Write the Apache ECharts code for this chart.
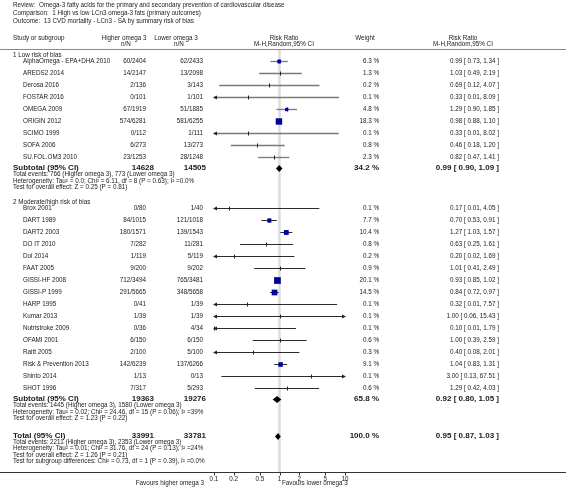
<!DOCTYPE html>
<html><head><meta charset="utf-8">
<script src="https://cdn.jsdelivr.net/npm/echarts@6/dist/echarts.min.js"></script>
<style>html,body{margin:0;padding:0;background:#fff}#c{width:566px;height:499px}</style>
</head><body><div id="c"></div>
<script>
// ---------------- DATA ----------------
const titleLines = [
  'Review:  Omega-3 fatty acids for the primary and secondary prevention of cardiovascular disease',
  'Comparison:  1 High vs low LCn3 omega-3 fats (primary outcomes)',
  'Outcome:  13 CVD mortality - LCn3 - SA by summary risk of bias'
];
const groupLabels = ['1 Low risk of bias', '2 Moderate/high risk of bias'];

const g1Names = ['AlphaOmega - EPA+DHA 2010','AREDS2 2014','Derosa 2016','FOSTAR 2016','OMEGA 2009','ORIGIN 2012','SCIMO 1999','SOFA 2006','SU.FOL.OM3 2010'];
const g1Higher = ['60/2404','14/2147','2/136','0/101','67/1919','574/6281','0/112','6/273','23/1253'];
const g1Lower = ['62/2433','13/2098','3/143','1/101','51/1885','581/6255','1/111','13/273','28/1248'];
const g1Weight = [6.3, 1.3, 0.2, 0.1, 4.8, 18.3, 0.1, 0.8, 2.3];
const g1RR = [0.99, 1.03, 0.69, 0.33, 1.29, 0.98, 0.33, 0.46, 0.82];
const g1CILow = [0.73, 0.49, 0.12, 0.01, 0.90, 0.88, 0.01, 0.18, 0.47];
const g1CIHigh = [1.34, 2.19, 4.07, 8.09, 1.85, 1.10, 8.02, 1.20, 1.41];

const g2Names = ['Brox 2001','DART 1989','DART2 2003','DO IT 2010','Doi 2014','FAAT 2005','GISSI-HF 2008','GISSI-P 1999','HARP 1995','Kumar 2013','Nutristroke 2009','OFAMI 2001','Raitt 2005','Risk & Prevention 2013','Shinto 2014','SHOT 1996'];
const g2Higher = ['0/80','84/1015','180/1571','7/282','1/119','9/200','712/3494','291/5665','0/41','1/39','0/36','6/150','2/100','142/6239','1/13','7/317'];
const g2Lower = ['1/40','121/1018','139/1543','11/281','5/119','9/202','765/3481','348/5658','1/39','1/39','4/34','6/150','5/100','137/6266','0/13','5/293'];
const g2Weight = [0.1, 7.7, 10.4, 0.8, 0.2, 0.9, 20.1, 14.5, 0.1, 0.1, 0.1, 0.6, 0.3, 9.1, 0.1, 0.6];
const g2RR = [0.17, 0.70, 1.27, 0.63, 0.20, 1.01, 0.93, 0.84, 0.32, 1.00, 0.10, 1.00, 0.40, 1.04, 3.00, 1.29];
const g2CILow = [0.01, 0.53, 1.03, 0.25, 0.02, 0.41, 0.85, 0.72, 0.01, 0.06, 0.01, 0.39, 0.08, 0.83, 0.13, 0.42];
const g2CIHigh = [4.05, 0.91, 1.57, 1.61, 1.69, 2.49, 1.02, 0.97, 7.57, 15.43, 1.79, 2.59, 2.01, 1.31, 67.51, 4.03];

const summaryLabels = ['Subtotal (95% CI)', 'Subtotal (95% CI)', 'Total (95% CI)'];
const summaryHigherN = [14628, 19363, 33991];
const summaryLowerN = [14505, 19276, 33781];
const summaryWeight = [34.2, 65.8, 100.0];
const summaryRR = [0.99, 0.92, 0.95];
const summaryCILow = [0.90, 0.80, 0.87];
const summaryCIHigh = [1.09, 1.05, 1.03];
const summaryNotes = [
  ['Total events: 766 (Higher omega 3), 773 (Lower omega 3)',
   'Heterogeneity: Tau\u00b2 = 0.0; Chi\u00b2 = 6.11, df = 8 (P = 0.63); I\u00b2 =0.0%',
   'Test for overall effect: Z = 0.25 (P = 0.81)'],
  ['Total events: 1445 (Higher omega 3), 1580 (Lower omega 3)',
   'Heterogeneity: Tau\u00b2 = 0.02; Chi\u00b2 = 24.46, df = 15 (P = 0.06); I\u00b2 =39%',
   'Test for overall effect: Z = 1.23 (P = 0.22)'],
  ['Total events: 2211 (Higher omega 3), 2353 (Lower omega 3)',
   'Heterogeneity: Tau\u00b2 = 0.01; Chi\u00b2 = 31.76, df = 24 (P = 0.13); I\u00b2 =24%',
   'Test for overall effect: Z = 1.26 (P = 0.21)',
   'Test for subgroup differences: Chi\u00b2 = 0.73, df = 1 (P = 0.39), I\u00b2 =0.0%']
];
const xTicks = [0.1, 0.2, 0.5, 1, 2, 5, 10];
const xTickLabels = ['0.1', '0.2', '0.5', '1', '2', '5', '10'];
const favoursLabels = ['Favours higher omega 3', 'Favours lower omega 3'];

// ---------------- LAYOUT ----------------
const FONT = '"Liberation Sans", Arial, sans-serif';
const FS = 6.3, FSB = 8;
const X_MIN = 0.1, X_MAX = 10;
const COL = {
  title: 13, group: 13, study: 23,
  higherR: 146, lowerR: 203, higherSumR: 154, lowerSumR: 206,
  weightR: 379, rrR: 499,
  higherHdr: 124, lowerHdr: 176, plotHdr: 284, weightHdr: 365, rrHdr: 463,
  favL: 204, favR: 282
};
const g1Start = 0, g2Start = 12.25;
const summaryRows = [8.9, 28.17, 31.22];
const noteStep = 0.53;
const AXIS_ROW = 34.27;

function fmtRR(r, l, h) { return r.toFixed(2) + ' [ ' + l.toFixed(2) + ', ' + h.toFixed(2) + ' ]'; }

const studies = [];
g1Names.forEach((n, i) => studies.push({g: 0, name: n, hi: g1Higher[i], lo: g1Lower[i], w: g1Weight[i], rr: g1RR[i], l: g1CILow[i], h: g1CIHigh[i], row: g1Start + i}));
g2Names.forEach((n, i) => studies.push({g: 1, name: n, hi: g2Higher[i], lo: g2Lower[i], w: g2Weight[i], rr: g2RR[i], l: g2CILow[i], h: g2CIHigh[i], row: g2Start + i}));

const texts = [];
function T(row, x, text, align, bold, color) { texts.push({row, x, text, align: align || 'left', bold: !!bold, color: color || '#1a1a1a'}); }
titleLines.forEach((t, i) => T(-4.67 + i * 0.667, COL.title, t, 'left', false, '#222'));
T(-1.86, COL.title, 'Study or subgroup');
T(-1.86, COL.higherHdr, 'Higher omega 3', 'center'); T(-1.42, COL.higherHdr + 2, 'n/N', 'center');
T(-1.86, COL.lowerHdr, 'Lower omega 3', 'center'); T(-1.42, COL.lowerHdr + 3, 'n/N', 'center');
T(-1.86, COL.plotHdr, 'Risk Ratio', 'center'); T(-1.42, COL.plotHdr, 'M-H,Random,95% CI', 'center');
T(-1.86, COL.weightHdr, 'Weight', 'center');
T(-1.86, COL.rrHdr, 'Risk Ratio', 'center'); T(-1.42, COL.rrHdr, 'M-H,Random,95% CI', 'center');
T(g1Start - 0.45, COL.group, groupLabels[0]);
T(g2Start - 0.5, COL.group, groupLabels[1]);
studies.forEach(s => {
  T(s.row, COL.study, s.name);
  T(s.row, COL.higherR, s.hi, 'right');
  T(s.row, COL.lowerR, s.lo, 'right');
  T(s.row, COL.weightR, s.w.toFixed(1) + ' %', 'right');
  T(s.row, COL.rrR, fmtRR(s.rr, s.l, s.h), 'right');
});
summaryLabels.forEach((lab, i) => {
  const r = summaryRows[i];
  T(r, COL.group, lab, 'left', true);
  T(r, COL.higherSumR, String(summaryHigherN[i]), 'right', true);
  T(r, COL.lowerSumR, String(summaryLowerN[i]), 'right', true);
  T(r, COL.weightR, summaryWeight[i].toFixed(1) + ' %', 'right', true);
  T(r, COL.rrR, fmtRR(summaryRR[i], summaryCILow[i], summaryCIHigh[i]), 'right', true);
  summaryNotes[i].forEach((n, j) => T(r + 0.55 + j * noteStep, COL.group, n));
});
T(AXIS_ROW + 0.92, COL.favL, favoursLabels[0], 'right');
T(AXIS_ROW + 0.92, COL.favR, favoursLabels[1], 'left');

const crisp = v => Math.round(v) + 0.5;

const chart = echarts.init(document.getElementById('c'), null, {renderer: 'canvas'});
chart.setOption({
  animation: false,
  backgroundColor: '#fff',
  grid: {left: 214, right: 221, top: 1, bottom: 18},
  xAxis: {type: 'log', logBase: 10, min: X_MIN, max: X_MAX, show: false},
  yAxis: {type: 'value', min: -5, max: 35, inverse: true, show: false},
  series: [
    {
      type: 'custom', clip: false, z: 1, silent: true,
      data: [[1, -1, AXIS_ROW]],
      renderItem(params, api) {
        const top = api.coord([api.value(0), api.value(1)]);
        const bot = api.coord([api.value(0), api.value(2)]);
        return {type: 'group', children: [
          {type: 'line', shape: {x1: top[0], y1: crisp(top[1]), x2: bot[0], y2: crisp(bot[1])}, style: {stroke: '#dcdcdc', lineWidth: 2.5}},
          {type: 'line', shape: {x1: 0, y1: crisp(top[1]), x2: 566, y2: crisp(top[1])}, style: {stroke: '#8a8a8a', lineWidth: 1}},
          {type: 'line', shape: {x1: 0, y1: crisp(bot[1]), x2: 566, y2: crisp(bot[1])}, style: {stroke: '#333', lineWidth: 1}}
        ]};
      }
    },
    {
      type: 'custom', clip: false, z: 2, silent: true,
      data: xTicks.map((v, i) => [v, AXIS_ROW, i]),
      renderItem(params, api) {
        const p = api.coord([api.value(0), api.value(1)]);
        const y = crisp(p[1]);
        return {type: 'group', children: [
          {type: 'line', shape: {x1: Math.round(p[0]) + 0.5, y1: y, x2: Math.round(p[0]) + 0.5, y2: y + 3}, style: {stroke: '#333', lineWidth: 1}},
          {type: 'text', x: p[0], y: y + 6.5, style: {text: xTickLabels[api.value(2)], font: FS + 'px ' + FONT, fill: '#1a1a1a', align: 'center', verticalAlign: 'middle'}}
        ]};
      }
    },
    {
      type: 'custom', clip: false, z: 3, silent: true,
      data: studies.map(s => [s.rr, s.row, s.l, s.h, s.w, s.g]),
      renderItem(params, api) {
        const rr = api.value(0), row = api.value(1), lo = api.value(2), hi = api.value(3), w = api.value(4), g = api.value(5);
        const p0 = api.coord([Math.max(lo, X_MIN), row]);
        const p1 = api.coord([Math.min(hi, X_MAX), row]);
        const pc = api.coord([rr, row]);
        const y = crisp(p0[1]);
        const lineStroke = g === 0 ? '#7a7a7a' : '#2a2a2a';
        const lineW = g === 0 ? 1.3 : 1;
        const ch = [{type: 'line', shape: {x1: p0[0], y1: y, x2: p1[0], y2: y}, style: {stroke: lineStroke, lineWidth: lineW}}];
        if (lo < X_MIN) ch.push({type: 'polygon', shape: {points: [[p0[0] - 1, y], [p0[0] + 3, y - 2], [p0[0] + 3, y + 2]]}, style: {fill: '#222'}});
        if (hi > X_MAX) ch.push({type: 'polygon', shape: {points: [[p1[0] + 1, y], [p1[0] - 3, y - 2], [p1[0] - 3, y + 2]]}, style: {fill: '#222'}});
        ch.push({type: 'line', shape: {x1: Math.round(pc[0]) + 0.5, y1: y - 2, x2: Math.round(pc[0]) + 0.5, y2: y + 2}, style: {stroke: '#222', lineWidth: 1}});
        if (w >= 4) {
          const s = 1.5 * Math.sqrt(w);
          ch.push({type: 'rect', shape: {x: pc[0] - s / 2, y: y - s / 2, width: s, height: s}, style: {fill: '#00009a'}});
        }
        return {type: 'group', children: ch};
      }
    },
    {
      type: 'custom', clip: false, z: 3, silent: true,
      data: summaryRR.map((v, i) => [v, summaryRows[i], summaryCILow[i], summaryCIHigh[i]]),
      renderItem(params, api) {
        const row = api.value(1);
        const pc = api.coord([api.value(0), row]);
        const pl = api.coord([api.value(2), row]);
        const ph = api.coord([api.value(3), row]);
        const y = crisp(pc[1]), hh = 3.5;
        return {type: 'polygon', shape: {points: [[pl[0] - 0.5, y], [pc[0], y - hh], [ph[0] + 0.5, y], [pc[0], y + hh]]}, style: {fill: '#000'}};
      }
    },
    {
      type: 'custom', clip: false, z: 4, silent: true,
      data: texts.map((t, i) => [1, t.row, i]),
      renderItem(params, api) {
        const t = texts[api.value(2)];
        const p = api.coord([1, api.value(1)]);
        return {type: 'text', x: t.x, y: p[1], style: {
          text: t.text, fill: t.color, align: t.align, verticalAlign: 'middle',
          font: (t.bold ? 'bold ' + FSB : FS) + 'px ' + FONT
        }};
      }
    }
  ]
});
</script>
</body></html>
